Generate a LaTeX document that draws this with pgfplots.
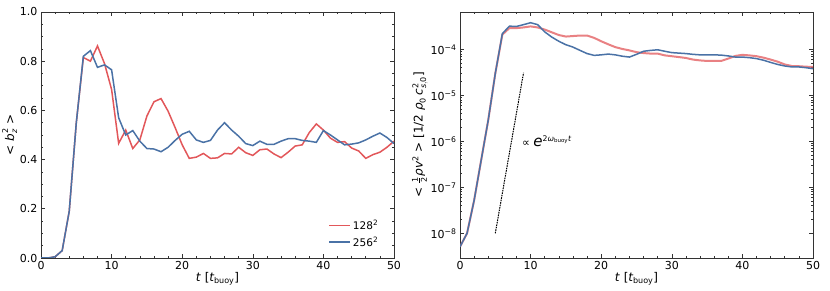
\documentclass[border=0pt]{standalone}
\usepackage{fontspec}
\setmainfont{DejaVu Sans}
\usepackage{amsmath}
\usepackage{pgfplots}
\pgfplotsset{compat=1.18}
\definecolor{cred}{HTML}{E2575A}
\definecolor{cblue}{HTML}{4A72A6}
\definecolor{axgray}{HTML}{333333}
\newcommand{\ti}[1]{\text{\itshape #1}}
\newcommand{\tr}[1]{\text{#1}}
\pgfplotsset{
  myaxis/.style={
    scale only axis, width=353pt, height=246pt,
    xmin=0, xmax=50,
    axis line style={axgray, line width=0.8pt},
    tick style={axgray, line width=0.6pt},
    tick align=inside,
    xtick pos=both, ytick pos=both,
    major tick length=4pt, minor tick length=2.2pt,
    xtick={0,10,...,50},
    minor x tick num=4,
    tick label style={font=\fontsize{11}{13}\selectfont},
    label style={font=\fontsize{12}{14}\selectfont},
    /pgf/number format/assume math mode=true,
    xlabel={\textit{t} [$\ti{t}_{\tr{buoy}}$]},
    xlabel style={yshift=4pt},
  }
}
\begin{document}
\begin{tikzpicture}[x=1pt,y=1pt]
\useasboundingbox (0,0) rectangle (830,291);
\begin{axis}[myaxis, at={(41pt,33pt)}, anchor=south west,
  ymin=0, ymax=1,
  ytick={0,0.2,...,1.0},
  yticklabel style={/pgf/number format/.cd, fixed, fixed zerofill, precision=1},
  minor y tick num=3,
  ylabel={< $\ti{b}_{\ti{z}}^{\tr{2}}$ >},
  ylabel style={yshift=-4pt},
  legend style={at={(0.97,0.025)}, anchor=south east, draw=none, fill=none,
    font=\fontsize{10.5}{12}\selectfont, row sep=2pt},
  legend cell align=left,
  legend image code/.code={\draw[#1] (0pt,0pt) -- (21pt,0pt);},
]
\addplot[cred, line width=1.5pt] coordinates {
(0,0)(1,0)(2,0.005)(3,0.03)(4,0.19)(5,0.55)(6,0.815)(7,0.80)(8,0.862)(9,0.79)
(10,0.685)(11,0.466)(12,0.52)(13,0.445)(14,0.48)(15,0.577)(16,0.635)(17,0.648)(18,0.597)(19,0.53)
(20,0.46)(21,0.405)(22,0.41)(23,0.425)(24,0.405)(25,0.407)(26,0.425)(27,0.423)(28,0.45)(29,0.428)
(30,0.417)(31,0.44)(32,0.443)(33,0.423)(34,0.408)(35,0.43)(36,0.455)(37,0.46)(38,0.51)(39,0.545)
(40,0.52)(41,0.487)(42,0.47)(43,0.473)(44,0.447)(45,0.435)(46,0.405)(47,0.42)(48,0.43)(49,0.45)(50,0.475)
};
\addlegendentry{128\textsuperscript{2}}
\addplot[cblue, line width=1.5pt] coordinates {
(0,0)(1,0)(2,0.005)(3,0.03)(4,0.19)(5,0.55)(6,0.82)(7,0.843)(8,0.775)(9,0.785)
(10,0.765)(11,0.57)(12,0.50)(13,0.518)(14,0.475)(15,0.445)(16,0.443)(17,0.432)(18,0.45)(19,0.478)
(20,0.503)(21,0.515)(22,0.48)(23,0.47)(24,0.478)(25,0.52)(26,0.55)(27,0.52)(28,0.495)(29,0.465)
(30,0.457)(31,0.475)(32,0.462)(33,0.462)(34,0.475)(35,0.485)(36,0.485)(37,0.478)(38,0.475)(39,0.47)
(40,0.518)(41,0.50)(42,0.48)(43,0.46)(44,0.463)(45,0.468)(46,0.48)(47,0.495)(48,0.508)(49,0.49)(50,0.465)
};
\addlegendentry{256\textsuperscript{2}}
\end{axis}
\begin{axis}[myaxis, at={(460pt,33pt)}, anchor=south west,
  ymode=log, ymin=2.9e-9, ymax=6.5e-4,
  ytick={1e-8,1e-7,1e-6,1e-5,1e-4},
  yticklabels={10\textsuperscript{−8},10\textsuperscript{−7},10\textsuperscript{−6},10\textsuperscript{−5},10\textsuperscript{−4}},
  ylabel={< $\frac{\tr{1}}{\tr{2}}\ti{ρv}^{\tr{2}}$ > [1/2 $\ti{ρ}_{\tr{0}}\,\ti{c}_{\ti{s},\tr{0}}^{\tr{2}}$]},
  ylabel style={yshift=-4pt},
]
\addplot[cred, line width=2pt, opacity=0.75] coordinates {
(0,5.1e-9)(1,1e-8)(2,5.2e-8)(3,3.9e-7)(4,2.9e-6)(5,3.0e-5)(6,2.1e-4)(7,2.9e-4)(8,2.9e-4)(9,3.0e-4)
(10,3.16e-4)(11,3.0e-4)(12,2.7e-4)(13,2.35e-4)(14,2.05e-4)(15,1.9e-4)(16,1.95e-4)(17,2.0e-4)(18,2.0e-4)(19,1.78e-4)
(20,1.5e-4)(21,1.29e-4)(22,1.12e-4)(23,1.02e-4)(24,9.5e-5)(25,8.7e-5)(26,8.3e-5)(27,8.1e-5)(28,8.1e-5)(29,7.4e-5)
(30,7.1e-5)(31,6.8e-5)(32,6.5e-5)(33,6.0e-5)(34,5.75e-5)(35,5.6e-5)(36,5.6e-5)(37,5.6e-5)(38,6.3e-5)(39,7.2e-5)
(40,7.6e-5)(41,7.4e-5)(42,7.1e-5)(43,6.6e-5)(44,6.0e-5)(45,5.4e-5)(46,4.7e-5)(47,4.35e-5)(48,4.3e-5)(49,4.2e-5)(50,4.15e-5)
};
\addplot[cblue, line width=1.5pt] coordinates {
(0,5.1e-9)(1,1e-8)(2,5.2e-8)(3,3.9e-7)(4,2.9e-6)(5,3.0e-5)(6,2.2e-4)(7,3.2e-4)(8,3.15e-4)(9,3.45e-4)
(10,3.8e-4)(11,3.45e-4)(12,2.4e-4)(13,1.85e-4)(14,1.5e-4)(15,1.26e-4)(16,1.12e-4)(17,9.5e-5)(18,8.1e-5)(19,7.4e-5)
(20,7.6e-5)(21,7.9e-5)(22,7.6e-5)(23,7.1e-5)(24,6.8e-5)(25,7.8e-5)(26,9.1e-5)(27,9.5e-5)(28,9.8e-5)(29,9.1e-5)
(30,8.5e-5)(31,8.3e-5)(32,8.1e-5)(33,7.8e-5)(34,7.6e-5)(35,7.6e-5)(36,7.6e-5)(37,7.5e-5)(38,7.2e-5)(39,6.8e-5)
(40,6.8e-5)(41,6.6e-5)(42,6.3e-5)(43,5.8e-5)(44,5.2e-5)(45,4.7e-5)(46,4.35e-5)(47,4.15e-5)(48,4.15e-5)(49,4.0e-5)(50,3.8e-5)
};
\addplot[black, line width=1pt, dash pattern=on 1.6pt off 0.9pt] coordinates {(5,1e-8)(9,3.1e-5)};
\node[anchor=west, font=\fontsize{11}{13}\selectfont] at (axis cs:8.3,1.0e-6) {∝ $\text{\fontsize{15}{15}\selectfont\itshape e}^{\tr{2}\ti{ω}_{\tr{buoy}}\ti{t}}$};
\end{axis}
\end{tikzpicture}
\end{document}
